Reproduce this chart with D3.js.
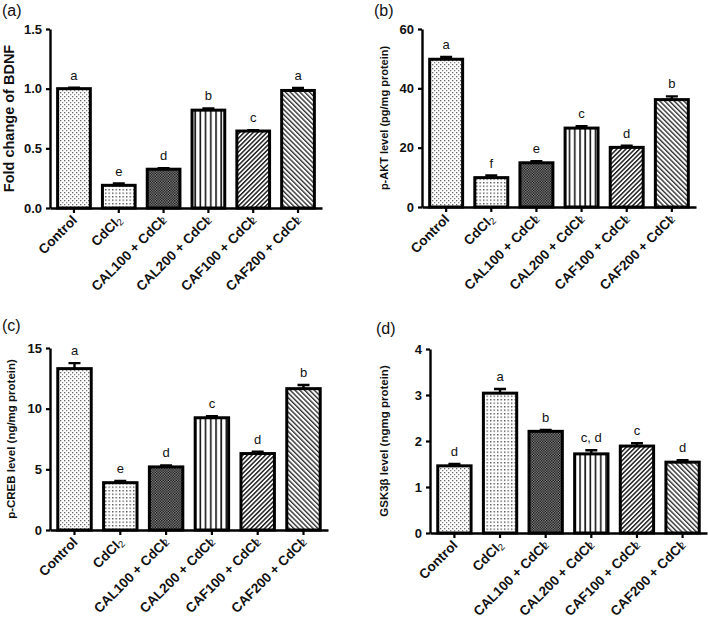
<!DOCTYPE html>
<html>
<head>
<meta charset="utf-8">
<script src="https://cdn.jsdelivr.net/npm/d3@7"></script>
<style>
  body { margin: 0; background: #fff; }
  svg { font-family: "Liberation Sans", Arial, sans-serif; }
</style>
</head>
<body>
<section></section>
<script>
const WIDTH = 708;
const HEIGHT = 621;

// Groups (same for every panel)
const groups = ["Control", "CdCl2", "CAL100 + CdCl2", "CAL200 + CdCl2", "CAF100 + CdCl2", "CAF200 + CdCl2"];

// (a) BDNF fold change
const bdnf = [1.0, 0.19, 0.325, 0.82, 0.645, 0.985];
const bdnfErr = [0.008, 0.015, 0.008, 0.015, 0.008, 0.02];
const bdnfLetters = ["a", "e", "d", "b", "c", "a"];
const bdnfTicks = [0, 0.5, 1.0, 1.5];

// (b) p-AKT
const akt = [49.8, 9.9, 14.9, 26.6, 20.1, 36.2];
const aktErr = [0.8, 0.7, 0.5, 0.6, 0.6, 1.1];
const aktLetters = ["a", "f", "e", "c", "d", "b"];
const aktTicks = [0, 20, 40, 60];

// (c) p-CREB
const creb = [13.3, 3.9, 5.2, 9.25, 6.3, 11.65];
const crebErr = [0.45, 0.15, 0.12, 0.12, 0.15, 0.3];
const crebLetters = ["a", "e", "d", "c", "d", "b"];
const crebTicks = [0, 5, 10, 15];

// (d) GSK3β
const gsk = [1.46, 3.04, 2.21, 1.72, 1.89, 1.54];
const gskErr = [0.04, 0.09, 0.03, 0.08, 0.06, 0.04];
const gskLetters = ["d", "a", "b", "c, d", "c", "d"];
const gskTicks = [0, 1, 2, 3, 4];

const panels = [
  {tag: "(a)", values: bdnf, err: bdnfErr, letters: bdnfLetters, ticks: bdnfTicks, max: 1.5, fmt: d3.format(".1f"),
   title: "Fold change of BDNF", titleSize: 14.5, titleX: 14,
   left: 50, right: 322, top: 29, bottom: 208, tagX: 2, tagY: 16},
  {tag: "(b)", values: akt, err: aktErr, letters: aktLetters, ticks: aktTicks, max: 60, fmt: d3.format("d"),
   title: "p-AKT level (pg/mg protein)", titleSize: 11, titleX: 388,
   left: 422, right: 696, top: 29, bottom: 207, tagX: 374, tagY: 16},
  {tag: "(c)", values: creb, err: crebErr, letters: crebLetters, ticks: crebTicks, max: 15, fmt: d3.format("d"),
   title: "p-CREB level (ng/mg protein)", titleSize: 11.5, titleX: 15,
   left: 50, right: 328, top: 348, bottom: 530, tagX: 2, tagY: 331},
  {tag: "(d)", values: gsk, err: gskErr, letters: gskLetters, ticks: gskTicks, max: 4, fmt: d3.format("d"),
   title: "GSK3\u03b2 level (ngmg protein)", titleSize: 11.5, titleX: 388,
   left: 430, right: 707, top: 349, bottom: 533, tagX: 376, tagY: 334}
];

const svg = d3.select("section")
  .append("svg")
  .attr("width", WIDTH)
  .attr("height", HEIGHT);

// Fill patterns for the six groups
const defs = svg.append("defs");

const dots = defs.append("pattern").attr("id", "p0")
  .attr("patternUnits", "userSpaceOnUse").attr("width", 4).attr("height", 4);
dots.append("rect").attr("width", 4).attr("height", 4).attr("fill", "#fff");
dots.append("rect").attr("x", 0).attr("y", 0).attr("width", 1.3).attr("height", 1.3).attr("fill", "#666");
dots.append("rect").attr("x", 2).attr("y", 2).attr("width", 1.3).attr("height", 1.3).attr("fill", "#888");

const dots2 = defs.append("pattern").attr("id", "p1")
  .attr("patternUnits", "userSpaceOnUse").attr("width", 3.5).attr("height", 3.5);
dots2.append("rect").attr("width", 3.5).attr("height", 3.5).attr("fill", "#fff");
dots2.append("rect").attr("width", 1.4).attr("height", 1.4).attr("fill", "#555");

const check = defs.append("pattern").attr("id", "p2")
  .attr("patternUnits", "userSpaceOnUse").attr("width", 2.6).attr("height", 2.6);
check.append("rect").attr("width", 2.6).attr("height", 2.6).attr("fill", "#999");
check.append("rect").attr("width", 1.3).attr("height", 1.3).attr("fill", "#000");
check.append("rect").attr("x", 1.3).attr("y", 1.3).attr("width", 1.3).attr("height", 1.3).attr("fill", "#000");

const vlines = defs.append("pattern").attr("id", "p3")
  .attr("patternUnits", "userSpaceOnUse").attr("width", 5.2).attr("height", 4);
vlines.append("rect").attr("width", 5.2).attr("height", 4).attr("fill", "#fff");
vlines.append("rect").attr("x", 2).attr("width", 1.6).attr("height", 4).attr("fill", "#111");

const diagUp = defs.append("pattern").attr("id", "p4")
  .attr("patternUnits", "userSpaceOnUse").attr("width", 3.2).attr("height", 3.2)
  .attr("patternTransform", "rotate(45)");
diagUp.append("rect").attr("width", 3.2).attr("height", 3.2).attr("fill", "#fff");
diagUp.append("rect").attr("width", 1.5).attr("height", 3.2).attr("fill", "#222");

const diagDown = defs.append("pattern").attr("id", "p5")
  .attr("patternUnits", "userSpaceOnUse").attr("width", 3.4).attr("height", 3.4)
  .attr("patternTransform", "rotate(-45)");
diagDown.append("rect").attr("width", 3.4).attr("height", 3.4).attr("fill", "#fff");
diagDown.append("rect").attr("width", 1.4).attr("height", 3.4).attr("fill", "#333");

const drawPanel = (p) => {
  const g = svg.append("g");

  const xScale = d3.scaleBand()
    .domain(groups)
    .range([p.left, p.right])
    .paddingInner(0.27)
    .paddingOuter(0.17);

  const yScale = d3.scaleLinear()
    .domain([0, p.max])
    .range([p.bottom, p.top]);

  // Error bars (behind the bar outline)
  g.selectAll(".err")
    .data(p.values)
    .enter()
    .append("path")
    .attr("class", "err")
    .attr("d", (d, i) => {
      const cx = xScale(groups[i]) + xScale.bandwidth() / 2;
      const yt = yScale(d + p.err[i]);
      return "M" + cx + "," + yScale(d) + "V" + yt + "M" + (cx - 6) + "," + yt + "H" + (cx + 6);
    })
    .attr("stroke", "#000")
    .attr("stroke-width", 2.4)
    .attr("fill", "none");

  // Bars
  g.selectAll(".bar")
    .data(p.values)
    .enter()
    .append("rect")
    .attr("class", "bar")
    .attr("x", (d, i) => xScale(groups[i]))
    .attr("y", d => yScale(d))
    .attr("width", xScale.bandwidth())
    .attr("height", d => yScale(0) - yScale(d))
    .attr("fill", (d, i) => "url(#p" + i + ")")
    .attr("stroke", "#000")
    .attr("stroke-width", 3);

  // Significance letters
  g.selectAll(".letter")
    .data(p.values)
    .enter()
    .append("text")
    .attr("class", "letter")
    .attr("x", (d, i) => xScale(groups[i]) + xScale.bandwidth() / 2)
    .attr("y", (d, i) => yScale(d + p.err[i]) - 8)
    .attr("text-anchor", "middle")
    .attr("font-size", 13)
    .attr("fill", "#111")
    .text((d, i) => p.letters[i]);

  // Axes
  const yAxis = d3.axisLeft(yScale)
    .tickValues(p.ticks)
    .tickFormat(p.fmt)
    .tickSize(4)
    .tickSizeOuter(0);

  const yG = g.append("g")
    .attr("transform", "translate(" + p.left + ",0)")
    .call(yAxis);

  const xAxis = d3.axisBottom(xScale)
    .tickSize(5)
    .tickSizeOuter(0)
    .tickFormat("");

  const xG = g.append("g")
    .attr("transform", "translate(0," + p.bottom + ")")
    .call(xAxis);

  [yG, xG].forEach(a => {
    a.select(".domain").attr("stroke-width", 2.4);
    a.selectAll(".tick line").attr("stroke-width", 2.2);
  });
  yG.selectAll(".tick text")
    .attr("font-size", 13)
    .attr("font-weight", "bold")
    .attr("font-family", "Liberation Sans, Arial, sans-serif")
    .attr("fill", "#111")
    .attr("dx", "-1");

  // Rotated group labels with subscript 2
  groups.forEach((name, i) => {
    const cx = xScale(name) + xScale.bandwidth() / 2;
    const t = g.append("text")
      .attr("transform", "translate(" + (cx + 4) + "," + (p.bottom + 13) + ") rotate(-45)")
      .attr("text-anchor", "end")
      .attr("font-size", 13.5)
      .attr("font-weight", "bold")
      .attr("fill", "#111");
    if (name.endsWith("CdCl2")) {
      t.append("tspan").text(name.slice(0, -1));
      t.append("tspan")
        .attr("font-size", 9.5)
        .attr("dx", name === "CdCl2" ? 0 : -2.5)
        .attr("dy", name === "CdCl2" ? 2 : 0)
        .attr("font-weight", "normal")
        .text("2");
    } else {
      t.text(name);
    }
  });

  // Y-axis title
  g.append("text")
    .attr("transform", "translate(" + p.titleX + "," + ((p.top + p.bottom) / 2) + ") rotate(-90)")
    .attr("text-anchor", "middle")
    .attr("font-size", p.titleSize)
    .attr("font-weight", "bold")
    .attr("fill", "#111")
    .text(p.title);

  // Panel tag
  g.append("text")
    .attr("x", p.tagX)
    .attr("y", p.tagY)
    .attr("font-size", 16)
    .attr("fill", "#111")
    .text(p.tag);
};

panels.forEach(drawPanel);
</script>
</body>
</html>
